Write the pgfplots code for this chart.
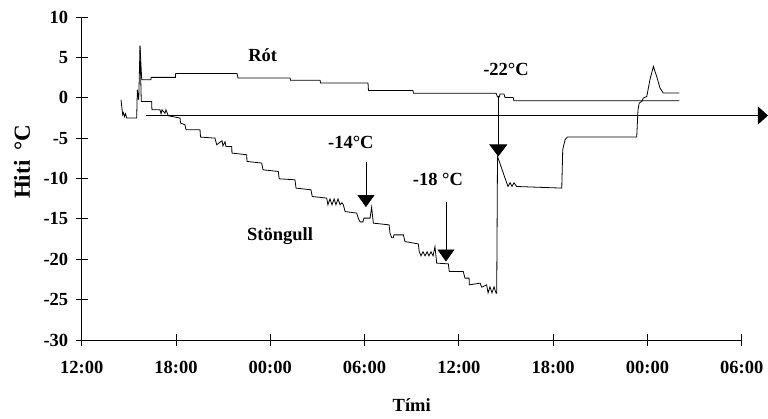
\documentclass[border=0pt]{standalone}
\usepackage{fontspec}
\setmainfont{Liberation Serif}
\usepackage{pgfplots}
\pgfplotsset{compat=1.18}
\usetikzlibrary{arrows.meta}

% stem (Stöngull) and root (Rót) temperature, hours after 12:00
\pgfplotstableread{
h T
2.50 -0.25
2.61 -2.11
2.66 -1.86
2.72 -2.35
2.79 -1.98
2.86 -2.52
3.50 -2.52
3.54 0.99
3.63 -0.25
3.71 6.44
3.79 -0.46
4.45 -0.46
4.47 -1.49
4.98 -1.49
5.05 -1.98
5.11 -1.49
5.30 -1.92
5.36 -1.49
5.51 -2.23
6.26 -2.52
6.29 -3.14
6.57 -3.35
6.64 -3.97
7.53 -3.97
7.56 -4.87
8.48 -5.00
8.59 -5.82
8.93 -5.33
8.99 -5.95
9.12 -5.45
9.18 -6.03
9.55 -6.03
9.56 -6.85
10.50 -7.06
10.52 -7.89
11.45 -8.09
11.54 -8.92
12.51 -9.13
12.57 -10.04
13.57 -10.16
13.64 -11.19
14.59 -11.40
14.67 -12.23
15.59 -12.43
15.67 -13.26
15.80 -12.52
15.93 -13.26
16.06 -12.52
16.18 -13.26
16.31 -12.52
16.44 -13.26
16.56 -13.00
16.65 -13.26
16.76 -14.09
17.50 -14.29
17.60 -14.91
17.71 -15.37
17.90 -15.37
17.96 -14.91
18.35 -14.91
18.45 -13.56
18.56 -15.53
19.56 -15.74
19.62 -16.77
19.73 -17.35
19.83 -17.35
19.87 -16.98
20.47 -16.98
20.57 -17.81
21.42 -18.10
21.48 -19.05
21.59 -19.58
21.72 -19.08
21.85 -19.58
21.98 -19.08
22.10 -19.58
22.23 -19.08
22.36 -19.58
22.48 -18.43
22.59 -20.48
23.33 -20.57
23.39 -21.52
24.28 -21.52
24.39 -22.34
24.65 -22.34
24.67 -23.17
25.35 -22.96
25.46 -23.46
25.77 -23.17
25.86 -24.16
25.98 -23.42
26.11 -24.16
26.24 -23.42
26.37 -24.20
26.41 -24.20
26.46 -7.27
27.05 -10.57
27.13 -10.99
27.26 -10.53
27.38 -10.99
27.51 -10.53
27.68 -10.99
30.55 -11.19
30.61 -6.44
30.76 -5.20
30.90 -4.87
35.32 -4.87
35.40 -1.49
35.48 -0.66
35.64 -0.46
35.74 -0.04
35.96 0.16
36.16 2.23
36.38 3.88
36.59 2.64
36.80 1.20
37.01 0.58
38.03 0.58
}\stongull

\pgfplotstableread{
h T
3.71 6.44
3.82 2.23
4.41 2.23
4.42 2.52
5.97 2.52
5.98 3.01
9.88 3.01
9.95 2.44
13.26 2.44
13.29 2.17
15.17 2.17
15.20 1.82
18.22 1.82
18.25 0.90
21.08 0.90
21.11 0.56
26.37 0.56
26.46 0.09
26.57 0.09
26.62 0.46
26.87 0.46
26.94 0.04
27.45 0.04
27.51 -0.37
38.03 -0.37
}\rot

\begin{document}
\begin{tikzpicture}[font=\fontsize{18.5}{22}\selectfont\bfseries]
\begin{axis}[
  scale only axis,
  width=660pt, height=323pt,
  xmin=0, xmax=42, ymin=-30, ymax=10,
  axis lines*=left,
  axis line style={line width=0.9pt},
  clip=false,
  xtick={0,6,...,42},
  xticklabels={12:00,18:00,00:00,06:00,12:00,18:00,00:00,06:00},
  ytick={-30,-25,...,10},
  yticklabels={-30,-25,-20,-15,-10,-5,0,5,10},
  tick align=center,
  major tick length=12pt,
  tick style={line width=0.8pt, black},
  xticklabel style={yshift=-12pt},
  yticklabel style={xshift=-4pt},
  xlabel={Tími},
  ylabel={Hiti\hspace{0.45em}°C},
  xlabel style={at={(rel axis cs:0.5,-0.2)}, anchor=center},
  ylabel style={at={(rel axis cs:-0.0905,0.552)}, anchor=center,
    font=\fontsize{23}{26}\selectfont\bfseries},
]
\addplot[black, line width=0.8pt] table[x=h, y=T] {\stongull};
\addplot[black, line width=0.8pt] table[x=h, y=T] {\rot};

% annotation arrows
\addplot[black, line width=0.8pt, -{Triangle[length=10pt,width=18pt]}] coordinates {(4.09,-2.2) (43.67,-2.2)};
\addplot[black, line width=0.8pt, -{Triangle[length=12pt,width=17pt]}] coordinates {(18.09,-7.9) (18.09,-13.54)};
\addplot[black, line width=0.8pt, -{Triangle[length=12pt,width=17pt]}] coordinates {(23.18,-12.97) (23.18,-20.28)};
\addplot[black, line width=0.8pt, -{Triangle[length=12pt,width=18pt]}] coordinates {(26.51,0.16) (26.51,-7.27)};

\node at (axis cs:17.13,-5.58) {-14°C};
\node at (axis cs:22.67,-10.16) {-18 °C};
\node at (axis cs:27.0,3.47) {-22°C};
\node at (axis cs:11.52,5.33) {Rót};
\node at (axis cs:12.62,-17.19) {Stöngull};
\end{axis}
\pgfresetboundingbox
\path[use as bounding box] (-81.7pt,-79pt) rectangle (686.3pt,340pt);
\end{tikzpicture}
\end{document}
